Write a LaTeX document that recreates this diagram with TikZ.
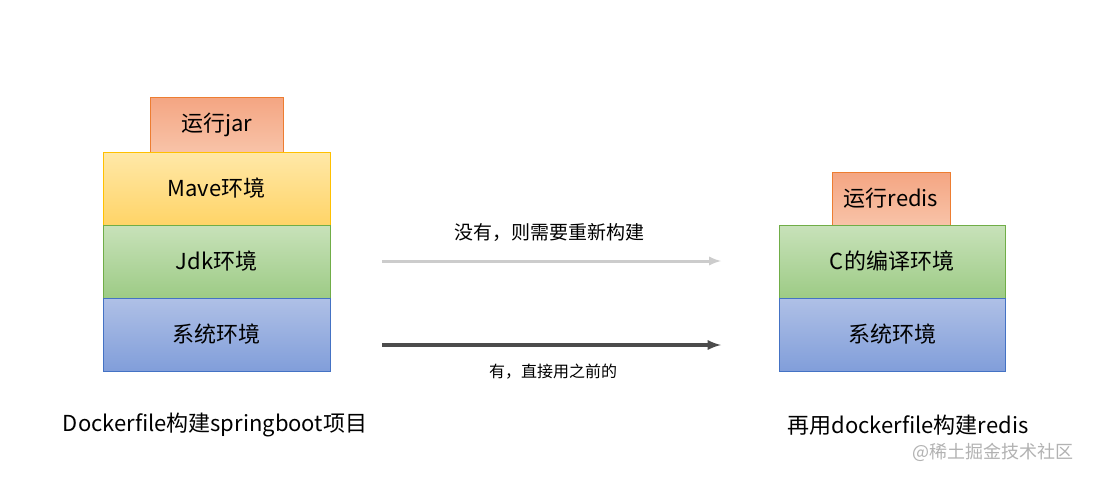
\documentclass[tikz,border=0pt]{standalone}
\usepackage{fontspec}
\setmainfont{Noto Sans CJK SC}
\definecolor{o1}{HTML}{F4A582}\definecolor{o2}{HTML}{F8C3A8}\definecolor{ob}{HTML}{ED7D31}
\definecolor{y1}{HTML}{FFE8A8}\definecolor{y2}{HTML}{FFD467}\definecolor{yb}{HTML}{FFC000}
\definecolor{g1}{HTML}{C8E2BA}\definecolor{g2}{HTML}{9DCB85}\definecolor{gb}{HTML}{70AD47}
\definecolor{b1}{HTML}{AFC0E6}\definecolor{b2}{HTML}{819EDA}\definecolor{bb}{HTML}{4472C4}
\begin{document}
\begin{tikzpicture}[x=1pt,y=-1pt,
 lay/.style={draw, line width=0.8pt, font=\fontsize{22}{26}\selectfont, inner sep=0pt},
 orng/.style={lay, draw=ob, top color=o1, bottom color=o2},
 yel/.style={lay, draw=yb, top color=y1, bottom color=y2},
 grn/.style={lay, draw=gb, top color=g1, bottom color=g2},
 blu/.style={lay, draw=bb, top color=b1, bottom color=b2}]
\useasboundingbox (0,0) rectangle (1093,479);
\fill[white] (0,0) rectangle (1093,479);
\node[orng, minimum width=133pt, minimum height=55pt] (jar) at (216.5,124.5) {运行jar};
\node[yel, minimum width=227pt, minimum height=73pt] (mave) at (216.5,188.5) {Mave环境};
\node[grn, minimum width=227pt, minimum height=73pt] (jdk) at (216.5,261.5) {Jdk环境};
\node[blu, minimum width=227pt, minimum height=73pt] (sys1) at (216.5,334.5) {系统环境};
\node[orng, minimum width=118pt, minimum height=53pt] (redis) at (891,198.5) {运行redis};
\node[grn, minimum width=226pt, minimum height=73pt] (cenv) at (892,261.5) {C的编译环境};
\node[blu, minimum width=226pt, minimum height=73pt] (sys2) at (892,334.5) {系统环境};
\coordinate (a1s) at (382,261); \coordinate (a1e) at (721,261);
\coordinate (a2s) at (382,345); \coordinate (a2e) at (721,345);
\draw[-latex, line width=3pt, gray!40] (a1s) -- (a1e);
\draw[-latex, line width=3.5pt, black!70] (a2s) -- (a2e);
\node[font=\fontsize{19}{22}\selectfont] (t1) at (549,232) {没有，则需要重新构建};
\node[font=\fontsize{16}{19}\selectfont] (t2) at (553,372) {有，直接用之前的};
\node[font=\fontsize{22}{26}\selectfont] (b1) at (215,425) {Dockerfile构建springboot项目};
\node[font=\fontsize{22}{26}\selectfont] (b2) at (908,425) {再用dockerfile构建redis};
\node[font=\fontsize{18}{21}\selectfont, text=gray!60] (wm) at (993,452) {@稀土掘金技术社区};
\end{tikzpicture}
\end{document}
